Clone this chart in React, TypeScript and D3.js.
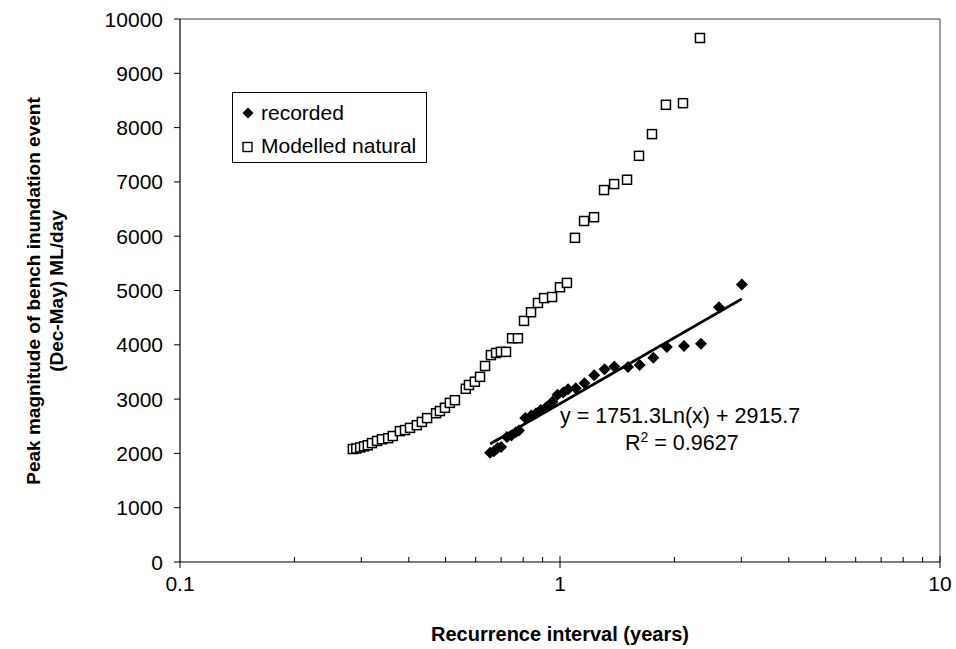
import React from 'react';
import * as d3 from 'd3';

// recorded peak events (recurrence interval in years, ML/day)
const recordedX = [0.655, 0.67, 0.685, 0.70, 0.725, 0.745, 0.765, 0.78, 0.81, 0.84, 0.865, 0.89, 0.92, 0.955, 0.985, 1.02, 1.05, 1.10, 1.16, 1.23, 1.31, 1.39, 1.51, 1.62, 1.76, 1.91, 2.12, 2.35, 2.62, 3.01];
const recordedY = [2010, 2040, 2100, 2120, 2300, 2330, 2390, 2420, 2650, 2700, 2740, 2800, 2850, 2950, 3080, 3120, 3180, 3200, 3290, 3440, 3550, 3600, 3590, 3630, 3760, 3960, 3980, 4020, 4690, 5110];

// modelled natural peak events
const modelledX = [0.285, 0.291, 0.298, 0.305, 0.312, 0.320, 0.330, 0.340, 0.353, 0.363, 0.379, 0.391, 0.403, 0.420, 0.433, 0.447, 0.472, 0.483, 0.498, 0.513, 0.529, 0.565, 0.576, 0.597, 0.616, 0.635, 0.658, 0.679, 0.699, 0.721, 0.748, 0.775, 0.804, 0.839, 0.875, 0.908, 0.953, 1.0, 1.043, 1.095, 1.157, 1.229, 1.306, 1.388, 1.501, 1.614, 1.746, 1.900, 2.107, 2.335];
const modelledY = [2080, 2090, 2110, 2130, 2150, 2190, 2230, 2260, 2280, 2320, 2410, 2430, 2470, 2520, 2580, 2650, 2740, 2780, 2840, 2930, 2980, 3190, 3260, 3320, 3410, 3610, 3810, 3850, 3870, 3870, 4120, 4120, 4440, 4600, 4770, 4860, 4880, 5060, 5140, 5970, 6280, 6350, 6850, 6960, 7040, 7480, 7880, 8420, 8450, 9650];

// log trendline on recorded series
const trendA = 1751.3;
const trendB = 2915.7;

const yTicks = [0, 1000, 2000, 3000, 4000, 5000, 6000, 7000, 8000, 9000, 10000];
const xMajor = [0.1, 1, 10];

const FONT = '"Liberation Sans", Arial, sans-serif';

export default function App() {
  const W = 956, H = 649;
  const left = 180, right = 940, top = 19, bottom = 562;

  const x = d3.scaleLog().domain([0.1, 10]).range([left, right]);
  const y = d3.scaleLinear().domain([0, 10000]).range([bottom, top]);

  const minor: number[] = [];
  [0.1, 1].forEach(d => { for (let k = 2; k <= 9; k++) minor.push(d * k); });

  const xmin = d3.min(recordedX)!, xmax = d3.max(recordedX)!;
  const trendPts = d3.range(0, 41).map(i => {
    const xv = Math.exp(Math.log(xmin) + (Math.log(xmax) - Math.log(xmin)) * i / 40);
    return [x(xv), y(trendA * Math.log(xv) + trendB)] as [number, number];
  });
  const line = d3.line();

  const diamond = (cx: number, cy: number, r: number) =>
    `M${cx},${cy - r}L${cx + r},${cy}L${cx},${cy + r}L${cx - r},${cy}Z`;

  return (
    <svg width={W} height={H} style={{ position: 'absolute', left: 0, top: 0, background: '#fff' }} fontFamily={FONT}>
      {/* plot frame */}
      <line x1={left} y1={top} x2={right} y2={top} stroke="#808080" strokeWidth={1.5} />
      <line x1={right} y1={top} x2={right} y2={bottom} stroke="#808080" strokeWidth={1.5} />
      <line x1={left} y1={top} x2={left} y2={bottom} stroke="#000" strokeWidth={1.2} />
      <line x1={left} y1={bottom} x2={right} y2={bottom} stroke="#000" strokeWidth={1.2} />

      {/* y ticks */}
      {yTicks.map(t => (
        <g key={t}>
          <line x1={left - 6} x2={left} y1={y(t)} y2={y(t)} stroke="#000" strokeWidth={1} />
          <text x={163} y={y(t)} dy="0.36em" textAnchor="end" fontSize={21}>{t}</text>
        </g>
      ))}

      {/* x ticks */}
      {xMajor.map(t => (
        <g key={t}>
          <line x1={x(t)} x2={x(t)} y1={t === 0.1 ? bottom : bottom - 6} y2={bottom + 6} stroke="#000" strokeWidth={1} />
          <text x={x(t)} y={591} textAnchor="middle" fontSize={21}>{t}</text>
        </g>
      ))}
      {minor.map(t => (
        <line key={t} x1={x(t)} x2={x(t)} y1={bottom - 5} y2={bottom} stroke="#000" strokeWidth={1} />
      ))}

      {/* modelled natural */}
      {modelledX.map((d, i) => (
        <rect key={i} x={x(d) - 4.5} y={y(modelledY[i]) - 4.5} width={9} height={9}
          fill="#fff" stroke="#000" strokeWidth={1.5} />
      ))}

      {/* recorded */}
      {recordedX.map((d, i) => (
        <path key={i} d={diamond(x(d), y(recordedY[i]), 6)} fill="#000" />
      ))}

      {/* trendline */}
      <path d={line(trendPts) || ''} fill="none" stroke="#000" strokeWidth={2.8} />

      <text x={560} y={423} fontSize={21.5}>y = 1751.3Ln(x) + 2915.7</text>
      <text x={625} y={450} fontSize={21.5}>R<tspan dy={-8} fontSize={14}>2</tspan><tspan dy={8}> = 0.9627</tspan></text>

      {/* legend */}
      <rect x={232.5} y={92.5} width={194} height={70} fill="#fff" stroke="#000" strokeWidth={1} />
      <path d={diamond(248, 113, 5.5)} fill="#000" />
      <text x={261} y={112} dy="0.36em" fontSize={21}>recorded</text>
      <rect x={243} y={142.5} width={9} height={9} fill="#fff" stroke="#000" strokeWidth={1.4} />
      <text x={261} y={145} dy="0.36em" fontSize={21}>Modelled natural</text>

      {/* axis titles */}
      <text x={560} y={641} textAnchor="middle" fontSize={20} fontWeight="bold">Recurrence interval (years)</text>
      <text transform="translate(40,291) rotate(-90)" textAnchor="middle" fontSize={19} fontWeight="bold">Peak magnitude of bench inundation event</text>
      <text transform="translate(63,291) rotate(-90)" textAnchor="middle" fontSize={19} fontWeight="bold">(Dec-May) ML/day</text>
    </svg>
  );
}
